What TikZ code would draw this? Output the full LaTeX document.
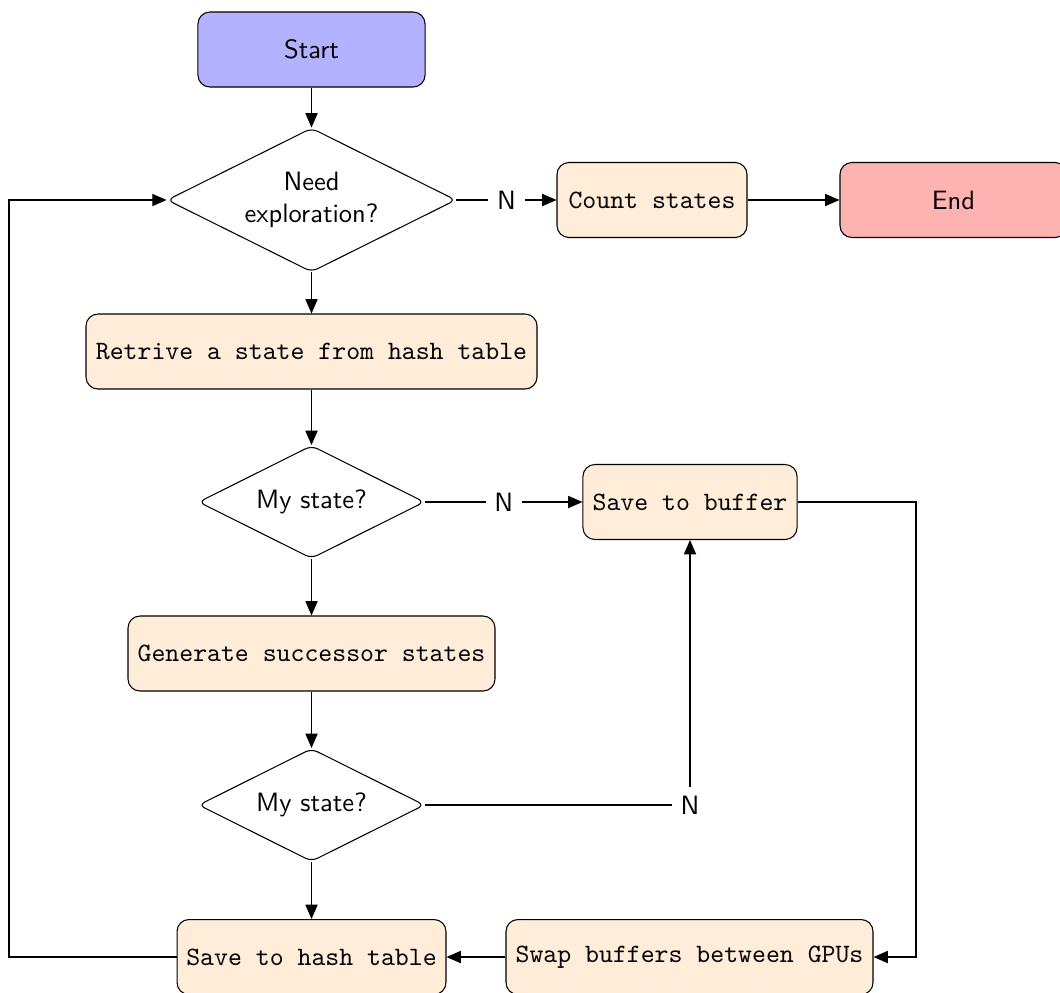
\documentclass[tikz,border=0pt]{standalone}
\usetikzlibrary{shapes.geometric,arrows.meta}
\begin{document}
\begin{tikzpicture}[x=0.3774pt,y=-0.3774pt,
  every node/.style={font=\sffamily},
  termbox/.style={draw, rounded corners=4.5pt, minimum width=85.7pt, minimum height=28.3pt, font=\sffamily},
  procbox/.style={draw, rounded corners=4.5pt, fill=orange!15, minimum height=28.3pt, font=\ttfamily},
  decbox/.style={draw, diamond, aspect=2, rounded corners=2.5pt, inner sep=0pt, align=center, font=\sffamily},
  arr/.style={-{Triangle[length=5.4pt,width=4.6pt]}},
  lbl/.style={fill=white, font=\sffamily, inner sep=3.3pt}]
\useasboundingbox (0,0) rectangle (1060,992);
\node[termbox, fill=blue!30] (start) at (311.5,49.5) {Start};
\node[decbox, minimum width=109pt, minimum height=54.3pt] (d1) at (311.5,200) {Need\\exploration?};
\node[procbox, minimum width=71.7pt] (count) at (652,200) {Count states};
\node[termbox, fill=red!30] (end) at (953.5,200) {End};
\node[procbox, minimum width=170.2pt] (ret) at (311.5,351.5) {Retrive a state from hash table};
\node[decbox, minimum width=85.3pt, minimum height=42.6pt] (d2) at (311.5,502) {My state?};
\node[procbox, minimum width=80.8pt] (buf) at (690,502) {Save to buffer};
\node[procbox, minimum width=138.5pt] (gen) at (311.5,653.5) {Generate successor states};
\node[decbox, minimum width=85.3pt, minimum height=42.6pt] (d3) at (311.5,805) {My state?};
\node[procbox, minimum width=101.5pt] (hash) at (311.5,957) {Save to hash table};
\node[procbox, minimum width=138.5pt] (swap) at (689.5,957) {Swap buffers between GPUs};
\coordinate (lx) at (9,0);
\coordinate (rx) at (916,0);
\draw[arr] (start) -- (d1);
\draw[arr] (d1) -- node[lbl] {N} (count);
\draw[arr] (count) -- (end);
\draw[arr] (d1) -- (ret);
\draw[arr] (ret) -- (d2);
\draw[arr] (d2) -- node[lbl] {N} (buf);
\draw[arr] (d2) -- (gen);
\draw[arr] (gen) -- (d3);
\draw[arr] (d3) -- (hash);
\draw[arr] (d3.east) -- (d3.east -| buf) node[lbl] {N} -- (buf.south);
\draw[arr] (buf.east) -- (buf.east -| rx) |- (swap.east);
\draw[arr] (swap) -- (hash);
\draw[arr] (hash.west) -- (hash.west -| lx) |- (d1.west);
\end{tikzpicture}
\end{document}
